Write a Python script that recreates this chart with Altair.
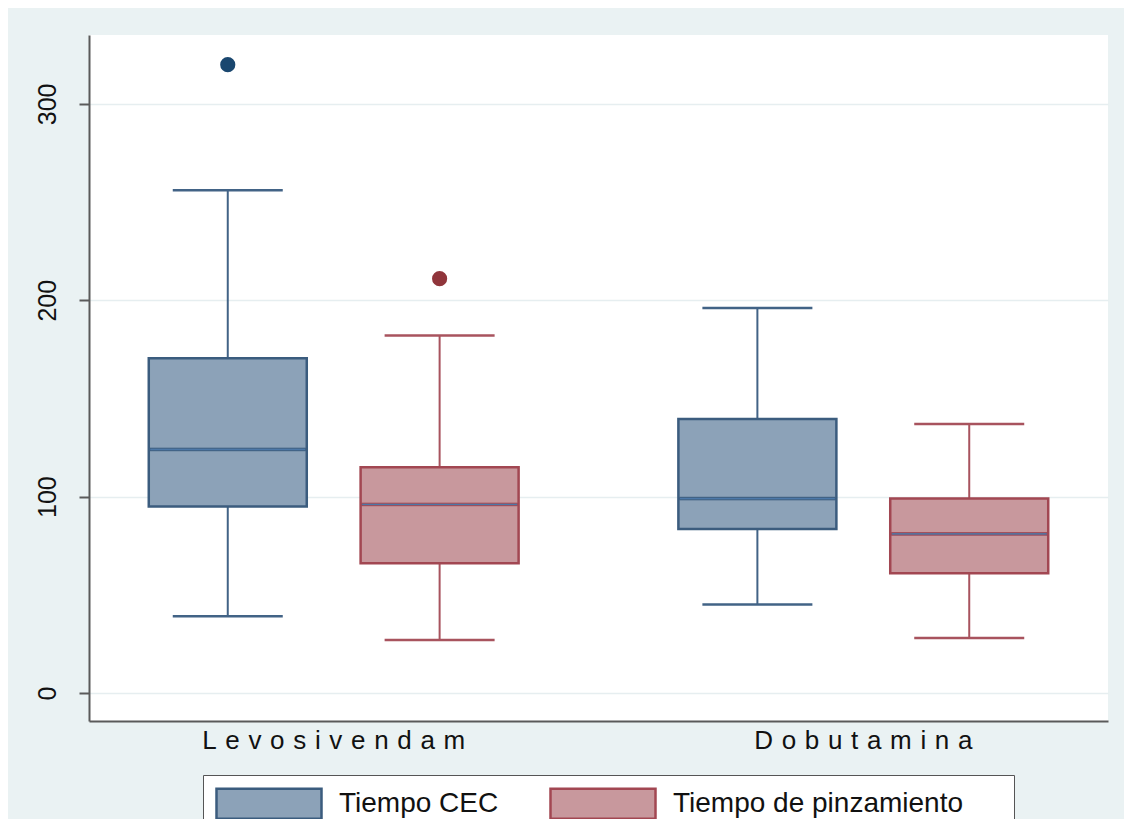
import altair as alt
import pandas as pd

# ---- data ----
group_order = ["Levosivendam", "Dobutamina"]
series_order = ["Tiempo CEC", "Tiempo de pinzamiento"]

box_group = ["Levosivendam", "Levosivendam", "Dobutamina", "Dobutamina"]
box_series = ["Tiempo CEC", "Tiempo de pinzamiento", "Tiempo CEC", "Tiempo de pinzamiento"]
lower = [39, 27, 45, 28]
q1 = [95, 66, 83.5, 61]
median = [124, 96, 99, 81]
q3 = [170.5, 115, 139.5, 99]
upper = [256, 182, 196, 137]

out_group = ["Levosivendam", "Levosivendam"]
out_series = ["Tiempo CEC", "Tiempo de pinzamiento"]
out_value = [320, 211]

y_ticks = [0, 100, 200, 300]

fill_colors = ["#8CA2B8", "#C8989D"]
line_colors = ["#3B5C7E", "#A24752"]
whisker_colors = ["#426386", "#A8535E"]
point_colors = ["#1A476F", "#90353B"]

boxes = pd.DataFrame({"group": box_group, "series": box_series, "lower": lower,
                      "q1": q1, "median": median, "q3": q3, "upper": upper})
outliers = pd.DataFrame({"group": out_group, "series": out_series, "value": out_value})

FONT = "Liberation Sans"
spaced = {g: "\u2004".join(g) for g in group_order}
label_expr = "datum.value == '%s' ? '%s' : '%s'" % (
    group_order[0], spaced[group_order[0]], spaced[group_order[1]])

x_enc = alt.X("group:N", sort=group_order, title=None,
              scale=alt.Scale(domain=group_order, paddingInner=0.2, paddingOuter=0.062),
              axis=alt.Axis(labelExpr=label_expr, labelAngle=0, ticks=False, grid=False,
                            labelFont=FONT, labelFontSize=26, labelColor="#111111",
                            labelPadding=6, labelLimit=500))
xo_enc = alt.XOffset("series:N", sort=series_order,
                     scale=alt.Scale(domain=series_order, paddingInner=0, paddingOuter=0))
y_scale = alt.Scale(domain=[-14.3, 335.1], nice=False, zero=False)
y_axis = alt.Axis(values=y_ticks, labelAngle=270, labelAlign="center", labelBaseline="bottom",
                  labelFont=FONT, labelFontSize=25, labelColor="#111111", labelPadding=19,
                  tickSize=10, grid=True, title=None)

base = alt.Chart(boxes)

whisk_lo = base.mark_rule(strokeWidth=2).encode(
    x=x_enc, xOffset=xo_enc,
    y=alt.Y("lower:Q", scale=y_scale, axis=y_axis), y2="q1:Q",
    color=alt.Color("series:N", scale=alt.Scale(domain=series_order, range=whisker_colors), legend=None))
whisk_hi = base.mark_rule(strokeWidth=2).encode(
    x=x_enc, xOffset=xo_enc, y=alt.Y("q3:Q"), y2="upper:Q",
    color=alt.Color("series:N", legend=None))
cap_lo = base.mark_tick(size=110, thickness=2.5, opacity=1).encode(
    x=x_enc, xOffset=xo_enc, y=alt.Y("lower:Q"), color=alt.Color("series:N", legend=None))
cap_hi = base.mark_tick(size=110, thickness=2.5, opacity=1).encode(
    x=x_enc, xOffset=xo_enc, y=alt.Y("upper:Q"), color=alt.Color("series:N", legend=None))

legend = alt.Legend(title=None, orient="none", legendX=114, legendY=740, direction="horizontal",
                    symbolType="M-1,-1H6V1H-1Z", symbolSize=900, symbolStrokeWidth=2.5,
                    symbolOpacity=1,
                    labelExpr="datum.label + '\u00a0\u00a0\u00a0\u00a0\u00a0\u200b'",
                    labelFont=FONT, labelFontSize=28, labelColor="#111111", labelOffset=91,
                    columnPadding=7, padding=12, fillColor="white", strokeColor="#555555",
                    labelLimit=500)

box = base.mark_bar(size=158, strokeWidth=2.5, opacity=1).encode(
    x=x_enc, xOffset=xo_enc, y=alt.Y("q1:Q"), y2="q3:Q",
    fill=alt.Fill("series:N", scale=alt.Scale(domain=series_order, range=fill_colors), legend=legend),
    stroke=alt.Stroke("series:N", scale=alt.Scale(domain=series_order, range=line_colors), legend=legend))

med = alt.Chart(boxes).mark_tick(size=156, thickness=2.5, opacity=1).encode(
    x=x_enc, xOffset=xo_enc, y=alt.Y("median:Q"),
    stroke=alt.Stroke("series:N", legend=legend))

pts = alt.Chart(outliers).mark_circle(size=230, opacity=1).encode(
    x=x_enc, xOffset=xo_enc, y=alt.Y("value:Q"),
    color=alt.Color("series:N", scale=alt.Scale(domain=series_order, range=point_colors), legend=None))

chart = alt.layer(whisk_lo, whisk_hi, cap_lo, cap_hi, box, med)
chart = alt.layer(chart, pts).resolve_scale(color="independent").properties(
    width=1019, height=686,
    autosize=alt.AutoSizeParams(type="none"),
    padding={"left": 81, "top": 27, "right": 16, "bottom": 98},
    background="#EAF2F3",
).configure_view(fill="white", stroke=None).configure_axis(
    domainColor="#5A5A5A", domainWidth=2, tickColor="#5A5A5A", tickWidth=2,
    gridColor="#E6EEF0", gridWidth=1.5,
)

chart.save("out.html", embed_options={"renderer": "svg", "actions": False})
